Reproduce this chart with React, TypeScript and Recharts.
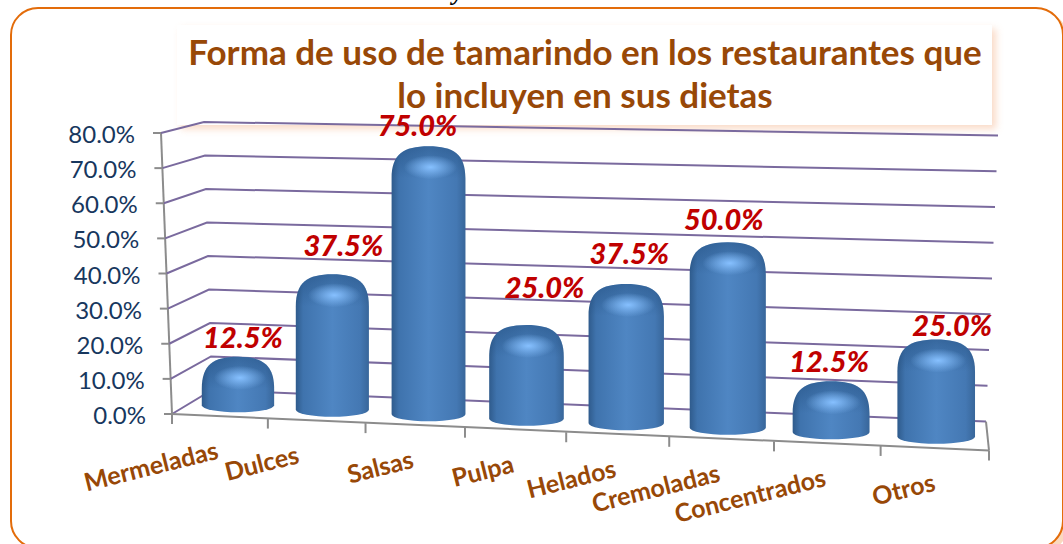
import React from "react";
import { BarChart, Bar, XAxis, YAxis, CartesianGrid, LabelList } from "recharts";

const categories = ["Mermeladas", "Dulces", "Salsas", "Pulpa", "Helados", "Cremoladas", "Concentrados", "Otros"];
const usoValues = [12.5, 37.5, 75.0, 25.0, 37.5, 50.0, 12.5, 25.0];
const yTicks = [0, 10, 20, 30, 40, 50, 60, 70, 80];

const data = categories.map((name, i) => ({ name, uso: usoValues[i] }));

// hand placed labels in the original, offset from the top centre of each bar
const labelDx = [5, 11, -11, 18, 3, -4, -2, 16];
const labelDy = [-19, -28, -20, -37, -30, -22, -19, -14];
const tickDx: Record<string, number> = { Dulces: -16, Otros: 2 };

const FONT = "Lato, sans-serif";
const BROWN = "#984807";
const GRID = "#7A6A9E";
const AXIS = "#8C8C8C";

const PLOT_LEFT = 172;
const PLOT_RIGHT = 989;
const PLOT_TOP = 122;
const PLOT_BOTTOM = 390;
const PLOT_W = PLOT_RIGHT - PLOT_LEFT;
const Y_AXIS_W = 100;
const X_AXIS_H = 100;

// fake 3D: maps the flat plot positions onto the tilted box
const warpX = (t: number) => PLOT_LEFT + PLOT_W * (0.93 * t + 0.07 * t * t);
const floorY = (t: number) => 414 + 36.5 * t;
const frac = (y: number) => (PLOT_BOTTOM - y) / (PLOT_BOTTOM - PLOT_TOP);
const toT = (x: number) => (x - PLOT_LEFT) / PLOT_W;

const barGeom = (x: number, width: number, height: number) => {
  const t = toT(x + width / 2);
  const cx = warpX(t) + 19.5 - 19 * t;
  const w = 72 + 6 * t;
  const bottom = 410 + 36 * t;
  const h = height * (1.02 + 0.08 * t) + 12.5;
  return { t, cx, w, bottom, top: bottom - h };
};

const GridLine = (props: any) => {
  const f = frac(props.y1);
  const fx = 172 - 11 * f;
  const fy = 414 - 281 * f;
  const bx = 212 - 8 * f;
  const by = 390 - 268 * f;
  const rx = 986 + 12 * f;
  const ry = 421.6 - 286 * f;
  const isFloor = f < 0.001;
  return (
    <g>
      <polyline
        points={`${fx},${fy} ${bx},${by} ${rx},${ry}`}
        fill="none"
        stroke={GRID}
        strokeWidth={2}
      />
      {isFloor && (
        <g stroke={AXIS} strokeWidth={2} fill="none">
          <line x1={172} y1={414} x2={161} y2={133} />
          <line x1={172} y1={414} x2={989} y2={450.5} />
          <line x1={986} y1={421.6} x2={989} y2={450.5} />
        </g>
      )}
    </g>
  );
};

const YTick = (props: any) => {
  const f = frac(props.y);
  const fx = 172 - 11 * f;
  const fy = 414 - 281 * f;
  return (
    <g>
      <line x1={fx - 8} y1={fy} x2={fx} y2={fy} stroke={AXIS} strokeWidth={2} />
      <text
        x={fx - 26}
        y={fy + 10}
        textAnchor="end"
        fontFamily={FONT}
        fontSize={24}
        fill="#17375E"
      >
        {props.payload.value.toFixed(1)}%
      </text>
    </g>
  );
};

const XTick = (props: any) => {
  const { x, payload, index } = props;
  const band = PLOT_W / categories.length;
  const t = toT(x);
  const edgeL = toT(x - band / 2);
  const edgeR = toT(x + band / 2);
  const tx = warpX(t) + (tickDx[payload.value] || 0);
  const ty = floorY(t) + 42;
  const mark = (e: number) => (
    <line
      x1={warpX(e)}
      y1={floorY(e)}
      x2={warpX(e)}
      y2={floorY(e) + 10}
      stroke={AXIS}
      strokeWidth={2}
    />
  );
  return (
    <g>
      {mark(edgeL)}
      {index === categories.length - 1 && mark(edgeR)}
      <text
        x={tx}
        y={ty}
        textAnchor="end"
        fontFamily={FONT}
        fontWeight={700}
        fontSize={25}
        fill={BROWN}
        transform={`rotate(-14 ${tx} ${ty})`}
      >
        {payload.value}
      </text>
    </g>
  );
};

const CylinderBar = (props: any) => {
  const { x, width, height } = props;
  const { cx, w, bottom, top } = barGeom(x, width, height);
  const l = cx - w / 2;
  const r = cx + w / 2;
  const ry = 7;
  const yb = bottom - ry;
  const dome = `M${l},${top + 32} C${l},${top + 8} ${l + w * 0.16},${top} ${cx},${top} C${r - w * 0.16},${top} ${r},${top + 8} ${r},${top + 32}`;
  return (
    <g>
      <path d={`${dome} L${r},${yb} A${w / 2},${ry} 0 0 1 ${l},${yb} Z`} fill="url(#cylBody)" />
      <path d={`${dome} Z`} fill="url(#cylCap)" />
      <ellipse cx={cx + 2} cy={top + 21} rx={w * 0.36} ry={12} fill="url(#cylGlow)" />
    </g>
  );
};

const BarLabel = (props: any) => {
  const { x, width, height, value, index } = props;
  // label position has to follow the warped bar, not the flat one
  const { cx, top } = barGeom(x, width, height);
  return (
    <text
      x={cx + labelDx[index]}
      y={top + labelDy[index] + 10}
      textAnchor="middle"
      fontFamily={FONT}
      fontWeight={900}
      fontStyle="italic"
      fontSize={29}
      fill="#C00000"
    >
      {Number(value).toFixed(1)}%
    </text>
  );
};

export default function App() {
  return (
    <div
      style={{
        position: "absolute",
        left: 0,
        top: 0,
        width: 1063,
        height: 544,
        overflow: "hidden",
        background: "#fff",
      }}
    >
      <div
        style={{
          position: "absolute",
          left: 374,
          top: -25,
          fontFamily: "'Liberation Serif', serif",
          fontWeight: 700,
          fontStyle: "italic",
          fontSize: 25,
          lineHeight: "32px",
          whiteSpace: "nowrap",
          transform: "translateY(1px)",
        }}
      >
        lo incluyen en sus dietas
      </div>
      <div
        style={{
          position: "absolute",
          left: 10,
          top: 7,
          width: 1050,
          height: 538,
          border: "2px solid #E36C0A",
          borderRadius: 28,
          background: "#fff",
          boxShadow: "4px 4px 0 #FAD9BF",
        }}
      />
      <div
        style={{
          position: "absolute",
          left: 177,
          top: 25,
          width: 815,
          height: 100,
          background: "#fff",
          boxShadow: "4px 4px 7px rgba(244,176,132,0.45)",
        }}
      />
      <div style={{ position: "absolute", left: 0, top: 0 }}>
        <BarChart
          width={1063}
          height={544}
          data={data}
          margin={{
            top: PLOT_TOP,
            right: 1063 - PLOT_RIGHT,
            bottom: 544 - PLOT_BOTTOM - X_AXIS_H,
            left: PLOT_LEFT - Y_AXIS_W,
          }}
          barSize={72}
        >
          <defs>
            <linearGradient id="cylBody" x1="0" y1="0" x2="1" y2="0">
              <stop offset="0" stopColor="#2F5B8C" />
              <stop offset="0.1" stopColor="#3F73AD" />
              <stop offset="0.5" stopColor="#4F86C3" />
              <stop offset="0.88" stopColor="#4478B3" />
              <stop offset="1" stopColor="#38669A" />
            </linearGradient>
            <linearGradient id="cylCap" x1="0" y1="0" x2="0" y2="1">
              <stop offset="0" stopColor="#1F4A7A" stopOpacity={0.5} />
              <stop offset="1" stopColor="#1F4A7A" stopOpacity={0} />
            </linearGradient>
            <radialGradient id="cylGlow">
              <stop offset="0" stopColor="#86C0FF" stopOpacity={1} />
              <stop offset="1" stopColor="#86C0FF" stopOpacity={0} />
            </radialGradient>
          </defs>
          <CartesianGrid vertical={false} horizontal={GridLine} />
          <XAxis
            dataKey="name"
            interval={0}
            height={X_AXIS_H}
            axisLine={false}
            tickLine={false}
            tick={XTick}
          />
          <YAxis
            domain={[0, 80]}
            ticks={yTicks}
            interval={0}
            width={Y_AXIS_W}
            axisLine={false}
            tickLine={false}
            tick={YTick}
          />
          <Bar dataKey="uso" shape={CylinderBar} isAnimationActive={false}>
            <LabelList dataKey="uso" content={BarLabel} />
          </Bar>
          <text
            x={585}
            y={65}
            textAnchor="middle"
            fontFamily={FONT}
            fontWeight={700}
            fontSize={35}
            fill={BROWN}
          >
            Forma de uso de tamarindo en los restaurantes que
          </text>
          <text
            x={585}
            y={108}
            textAnchor="middle"
            fontFamily={FONT}
            fontWeight={700}
            fontSize={35}
            fill={BROWN}
          >
            lo incluyen en sus dietas
          </text>
        </BarChart>
      </div>
    </div>
  );
}
